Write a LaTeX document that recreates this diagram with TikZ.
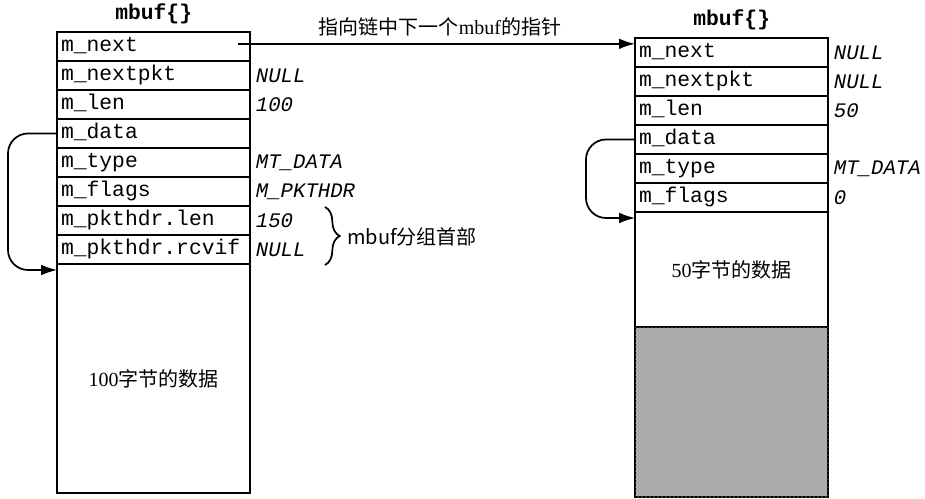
\documentclass[tikz,border=0pt]{standalone}
\usepackage{fontspec}
\setmainfont{Liberation Serif}
\setmonofont{Liberation Mono}
\newfontfamily\cjk{Noto Sans CJK SC}
\usetikzlibrary{positioning, arrows.meta, decorations.pathreplacing, patterns}

\tikzset{
  field/.style={draw, line width=1.4pt, outer sep=0pt, minimum width=144.75pt, minimum height=21.75pt,
    text width=139pt, align=left, inner xsep=3pt, text height=11pt, text depth=3pt,
    font=\fontsize{16}{18}\selectfont\ttfamily},
  body/.style={draw, line width=1.4pt, outer sep=0pt, minimum width=144.75pt, align=center,
    font=\fontsize{15}{18}\selectfont},
  value/.style={anchor=west, inner sep=0pt, font=\fontsize{15.5}{18}\selectfont\ttfamily\itshape},
  head/.style={inner sep=0pt, font=\fontsize{16}{18}\selectfont\ttfamily\bfseries},
  ptr/.style={line width=1.3pt, -{Latex[length=12pt,width=8pt]}, rounded corners=15pt},
  capt/.style={inner sep=0pt, font=\fontsize{15}{18}\selectfont}
}

\begin{document}
\begin{tikzpicture}[x=0.75pt, y=-0.75pt]
  \useasboundingbox (0,0) rectangle (925,499);

  % first mbuf
  \node[field, anchor=north west] (lnext) at (57,32) {m\_next};
  \node[field, below=0pt of lnext] (lnextpkt) {m\_nextpkt};
  \node[field, below=0pt of lnextpkt] (llen) {m\_len};
  \node[field, below=0pt of llen] (ldata) {m\_data};
  \node[field, below=0pt of ldata] (ltype) {m\_type};
  \node[field, below=0pt of ltype] (lflags) {m\_flags};
  \node[field, below=0pt of lflags] (lplen) {m\_pkthdr.len};
  \node[field, below=0pt of lplen] (lprcvif) {m\_pkthdr.rcvif};
  \node[body, below=0pt of lprcvif, minimum height=171.75pt] (lbody) {100{\cjk 字节的数据}};
  \node[head, above=6pt of lnext] (lhead) {mbuf\{\}};

  \node[value, right=4pt of lnextpkt] (vnextpkt) {NULL};
  \node[value, right=4pt of llen] (vlen) {100};
  \node[value, right=4pt of ltype] (vtype) {MT\_DATA};
  \node[value, right=4pt of lflags] (vflags) {M\_PKTHDR};
  \node[value, right=4pt of lplen] (vplen) {150};
  \node[value, right=4pt of lprcvif] (vprcvif) {NULL};

  % second mbuf
  \node[field, anchor=north west] (rnext) at (635,38) {m\_next};
  \node[field, below=0pt of rnext] (rnextpkt) {m\_nextpkt};
  \node[field, below=0pt of rnextpkt] (rlen) {m\_len};
  \node[field, below=0pt of rlen] (rdata) {m\_data};
  \node[field, below=0pt of rdata] (rtype) {m\_type};
  \node[field, below=0pt of rtype] (rflags) {m\_flags};
  \node[body, below=0pt of rflags, minimum height=86.25pt] (rbody) {50{\cjk 字节的数据}};
  \node[body, below=0pt of rbody, minimum height=127.5pt, fill=gray!70,
    postaction={pattern=crosshatch dots, pattern color=gray!35}] (rfree) {};
  \node[head, above=6pt of rnext] (rhead) {mbuf\{\}};

  \node[value, right=4pt of rnext] (wnext) {NULL};
  \node[value, right=4pt of rnextpkt] (wnextpkt) {NULL};
  \node[value, right=4pt of rlen] (wlen) {50};
  \node[value, right=4pt of rtype] (wtype) {MT\_DATA};
  \node[value, right=4pt of rflags] (wflags) {0};

  % pointers
  \coordinate (nstart) at ([xshift=-9pt, yshift=2pt]lnext.east);
  \draw[ptr] (nstart) -- (nstart -| rnext.west);
  \node[capt] (ncap) at (440,27) {{\cjk 指向链中下一个}mbuf{\cjk 的指针}};

  \draw[ptr] (ldata.west) -- ++(-49,0) |- ([yshift=-4.5pt]lbody.north west);
  \draw[ptr] (rdata.west) -- ++(-49,0) |- ([yshift=-4.5pt]rbody.north west);

  % packet header brace
  \coordinate (btop) at (325,207);
  \coordinate (bbot) at (325,265);
  \draw[line width=1.3pt, decorate, decoration={brace, amplitude=11pt}] (btop) -- (bbot);
  \node[capt, anchor=west] (bcap) at (347,237) {\cjk mbuf分组首部};
\end{tikzpicture}
\end{document}
